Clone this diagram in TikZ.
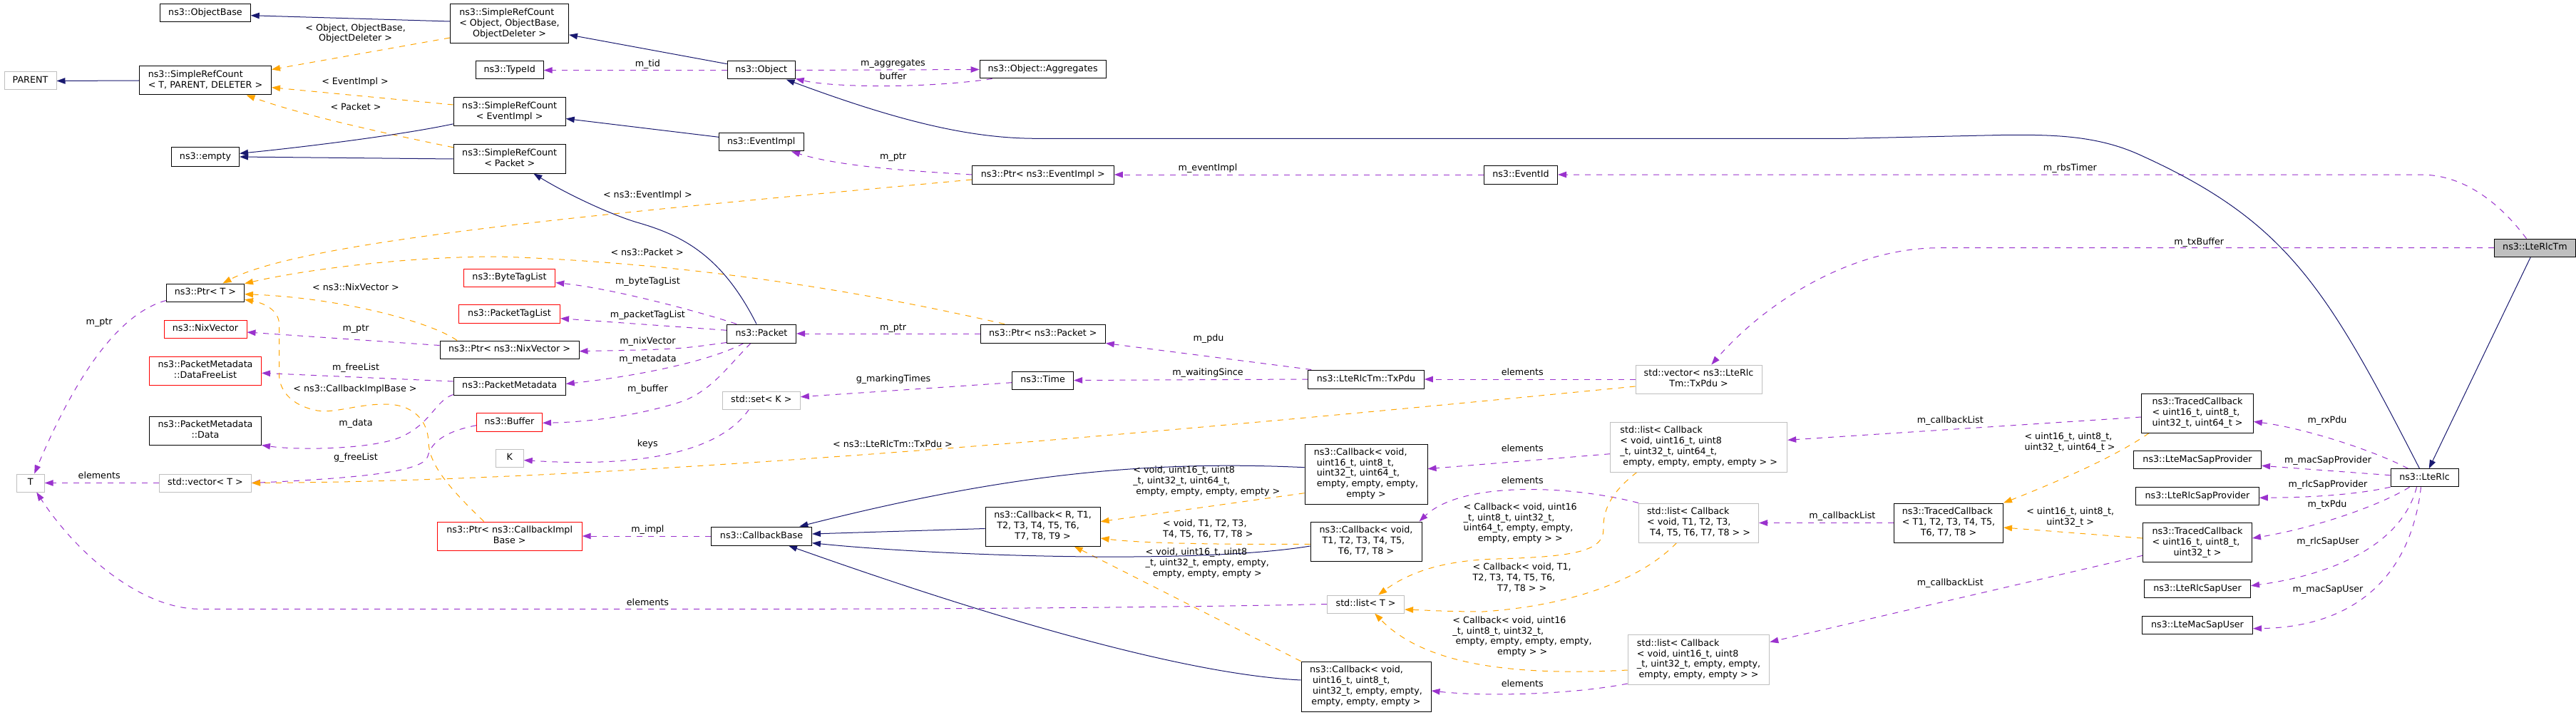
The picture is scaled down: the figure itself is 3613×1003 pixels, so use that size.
\documentclass[tikz,border=0pt]{standalone}
\usepackage{fontspec}
\setmainfont{DejaVu Sans}
\usetikzlibrary{arrows.meta,calc}
\pgfdeclarelayer{bg}
\pgfsetlayers{bg,main}
\definecolor{inhc}{HTML}{191970}
\definecolor{tplc}{HTML}{FFA500}
\definecolor{usec}{HTML}{9A32CD}
\definecolor{grb}{HTML}{BFBFBF}
\definecolor{redb}{HTML}{FF0000}
\newcommand{\mlines}[2]{\begin{tabular}{@{}l@{}}#1\\\multicolumn{1}{@{}c@{}}{#2}\end{tabular}}
\tikzset{
  nbox/.style={draw=black, line width=1pt, fill=white, inner sep=0pt, align=center},
  gbox/.style={nbox, draw=grb},
  rbox/.style={nbox, draw=redb},
  one/.style={text height=9.4pt, text depth=3pt},
  sz/.style 2 args={minimum width=#1pt, minimum height=#2pt},
  lbl/.style={inner sep=0pt, align=center},
  arrowhd/.style={-{Triangle[length=12pt,width=8.5pt]}},
  inh/.style={draw=inhc, line width=1pt, arrowhd},
  tpl/.style={draw=tplc, line width=1pt, dash pattern=on 8pt off 8pt, arrowhd},
  use/.style={draw=usec, line width=1pt, dash pattern=on 8pt off 8pt, arrowhd},
}
\begin{document}
\begin{tikzpicture}[x=1pt,y=-1pt,font=\fontsize{12.7pt}{14.8pt}\selectfont]
\useasboundingbox (0,0) rectangle (3613,1003);

% ---------------- nodes ----------------
\node[nbox,one,sz={126.5}{25}] (objbase) at (288,18.5) {ns3::ObjectBase};
\node[gbox,one,sz={73}{25}] (parent) at (42.5,113.5) {PARENT};
\node[nbox,sz={185}{40}] (srcT) at (288,113) {\mlines{ns3::SimpleRefCount}{< T, PARENT, DELETER >}};
\node[nbox,one,sz={95}{26}] (empty) at (288,220) {ns3::empty};
\node[nbox,one,sz={109}{25}] (ptrT) at (288,410.5) {ns3::Ptr< T >};
\node[rbox,one,sz={116}{25}] (nixv) at (288,461.5) {ns3::NixVector};
\node[rbox,sz={157}{40}] (dfl) at (288,520) {\mlines{ns3::PacketMetadata}{::DataFreeList}};
\node[nbox,sz={157}{40}] (pmdata) at (288,604) {\mlines{ns3::PacketMetadata}{::Data}};
\node[gbox,one,sz={39}{25}] (tT) at (42.7,677.5) {T};
\node[gbox,one,sz={129}{25}] (vecT) at (288,677.5) {std::vector< T >};
\node[nbox,sz={166}{55}] (srcObj) at (714.5,33.5) {\mlines{ns3::SimpleRefCount\\< Object, ObjectBase,}{ObjectDeleter >}};
\node[nbox,one,sz={95}{25}] (typeid) at (714.7,98.5) {ns3::TypeId};
\node[nbox,one,sz={95}{25}] (object) at (1067.7,98.5) {ns3::Object};
\node[nbox,sz={157}{40}] (srcEv) at (714.7,157) {\mlines{ns3::SimpleRefCount}{< EventImpl >}};
\node[nbox,one,sz={118.6}{25}] (eventimpl) at (1067.7,199.5) {ns3::EventImpl};
\node[nbox,sz={157}{40}] (srcPk) at (714.7,223) {\mlines{ns3::SimpleRefCount}{< Packet >}};
\node[rbox,one,sz={128.5}{25}] (btl) at (714.5,389.5) {ns3::ByteTagList};
\node[rbox,one,sz={142}{26}] (ptl) at (714.5,440) {ns3::PacketTagList};
\node[nbox,one,sz={195}{25}] (ptrNix) at (714.5,490.5) {ns3::Ptr< ns3::NixVector >};
\node[nbox,one,sz={97}{26}] (packet) at (1068,468) {ns3::Packet};
\node[nbox,one,sz={157}{25}] (pmeta) at (714.7,541.5) {ns3::PacketMetadata};
\node[rbox,one,sz={92}{26}] (buffer) at (714.5,592) {ns3::Buffer};
\node[gbox,one,sz={39}{25}] (kK) at (714.7,642.5) {K};
\node[rbox,sz={203}{40}] (ptrCB) at (714.7,752) {\mlines{ns3::Ptr< ns3::CallbackImpl}{Base >}};
\node[nbox,one,sz={141}{26}] (cbbase) at (1068,752) {ns3::CallbackBase};
\node[gbox,one,sz={109}{25}] (setK) at (1067.8,561.5) {std::set< K >};
\node[nbox,one,sz={177}{25}] (aggr) at (1462.6,97.5) {ns3::Object::Aggregates};
\node[nbox,one,sz={199}{26}] (ptrEv) at (1462.8,245) {ns3::Ptr< ns3::EventImpl >};
\node[nbox,one,sz={175}{26}] (ptrPk) at (1462.8,468) {ns3::Ptr< ns3::Packet >};
\node[nbox,one,sz={86}{25}] (time) at (1462.6,533.5) {ns3::Time};
\node[nbox,sz={161}{55}] (cbR) at (1462.6,738.5) {\mlines{ns3::Callback< R, T1,\\\ T2, T3, T4, T5, T6,}{T7, T8, T9 >}};
\node[nbox,one,sz={103}{26}] (eventid) at (2133,245) {ns3::EventId};
\node[nbox,one,sz={162.5}{26}] (txpdu) at (1916,532) {ns3::LteRlcTm::TxPdu};
\node[nbox,sz={172}{84}] (cbU64) at (1916,665) {\mlines{ns3::Callback< void,\\\ uint16\_t, uint8\_t,\\\ uint32\_t, uint64\_t,\\\ empty, empty, empty,}{empty >}};
\node[nbox,sz={156}{55}] (cbT) at (1916,759.5) {\mlines{ns3::Callback< void,\\\ T1, T2, T3, T4, T5,}{T6, T7, T8 >}};
\node[gbox,one,sz={108}{25}] (listT) at (1915.6,847.5) {std::list< T >};
\node[nbox,sz={182}{70}] (cbE) at (1916,963) {\mlines{ns3::Callback< void,\\\ uint16\_t, uint8\_t,\\\ uint32\_t, empty, empty,}{empty, empty, empty >}};
\node[gbox,sz={177}{40}] (vecTx) at (2382.5,532) {\mlines{std::vector< ns3::LteRlc}{Tm::TxPdu >}};
\node[gbox,sz={248}{70}] (listU64) at (2382.7,627) {\mlines{std::list< Callback\\< void, uint16\_t, uint8\\\_t, uint32\_t, uint64\_t,}{\ empty, empty, empty, empty > >}};
\node[gbox,sz={168}{55}] (listCT) at (2382.5,733.5) {\mlines{std::list< Callback\\< void, T1, T2, T3,}{\ T4, T5, T6, T7, T8 > >}};
\node[gbox,sz={198.6}{70}] (listE) at (2382.5,925.5) {\mlines{std::list< Callback\\< void, uint16\_t, uint8\\\_t, uint32\_t, empty, empty,}{empty, empty, empty > >}};
\node[nbox,sz={153}{55}] (tcT) at (2733,733.5) {\mlines{ns3::TracedCallback\\< T1, T2, T3, T4, T5,}{T6, T7, T8 >}};
\node[nbox,sz={156.6}{55}] (tcU64) at (3082,579.5) {\mlines{ns3::TracedCallback\\< uint16\_t, uint8\_t,}{uint32\_t, uint64\_t >}};
\node[nbox,one,sz={179}{25}] (macSP) at (3082,645.3) {ns3::LteMacSapProvider};
\node[nbox,one,sz={172.5}{25}] (rlcSP) at (3082,696) {ns3::LteRlcSapProvider};
\node[nbox,sz={153}{55}] (tcU32) at (3082,761.3) {\mlines{ns3::TracedCallback\\< uint16\_t, uint8\_t,}{uint32\_t >}};
\node[nbox,one,sz={149}{25}] (rlcSU) at (3082,826.3) {ns3::LteRlcSapUser};
\node[nbox,one,sz={155}{25}] (macSU) at (3082,877.3) {ns3::LteMacSapUser};
\node[nbox,one,sz={95}{25}] (lterlc) at (3400.5,670.3) {ns3::LteRlc};
\node[nbox,one,fill=grb,sz={114}{25}] (lterlctm) at (3555.5,347.7) {ns3::LteRlcTm};

% ---------------- template labels ----------------
\node[lbl] (l1) at (498.6,47.5) {\mlines{< Object, ObjectBase,}{ObjectDeleter >}};
\node[lbl,one] (l2) at (498,115.7) {< EventImpl >};
\node[lbl,one] (l3) at (499,151.7) {< Packet >};
\node[lbl,one] (l4) at (908.4,274.3) {< ns3::EventImpl >};
\node[lbl,one] (l5) at (907.6,355.3) {< ns3::Packet >};
\node[lbl,one] (l6) at (499,404.3) {< ns3::NixVector >};
\node[lbl,one] (l7) at (498,546.7) {< ns3::CallbackImplBase >};
\node[lbl,one] (l8) at (1252,624.3) {< ns3::LteRlcTm::TxPdu >};
\node[lbl] (l9) at (1692.3,675.7) {\mlines{< void, uint16\_t, uint8\\\_t, uint32\_t, uint64\_t,}{\ empty, empty, empty, empty >}};
\node[lbl] (l10) at (1694.3,743.2) {\mlines{< void, T1, T2, T3,}{T4, T5, T6, T7, T8 >}};
\node[lbl] (l11) at (1693.3,790.3) {\mlines{< void, uint16\_t, uint8\\\_t, uint32\_t, empty, empty,}{empty, empty, empty >}};
\node[lbl] (l12) at (2132.2,734.5) {\mlines{< Callback< void, uint16\\\_t, uint8\_t, uint32\_t,\\uint64\_t, empty, empty,}{empty, empty > >}};
\node[lbl] (l13) at (2134.7,811.5) {\mlines{< Callback< void, T1,\\T2, T3, T4, T5, T6,}{T7, T8 > >}};
\node[lbl] (l14) at (2135.1,893.5) {\mlines{< Callback< void, uint16\\\_t, uint8\_t, uint32\_t,\\\ empty, empty, empty, empty,}{empty > >}};
\node[lbl] (l15) at (2903,621.3) {\mlines{< uint16\_t, uint8\_t,}{uint32\_t, uint64\_t >}};
\node[lbl] (l16) at (2903.7,725.7) {\mlines{< uint16\_t, uint8\_t,}{uint32\_t >}};

% ---------------- member labels ----------------
\node[lbl,one] (lm1) at (908.4,90) {m\_tid};
\node[lbl,one] (lm2) at (1252.5,89) {m\_aggregates};
\node[lbl,one] (lm3) at (1252.6,108.3) {buffer};
\node[lbl,one] (lm4) at (1694,236.7) {m\_eventImpl};
\node[lbl,one] (lm5) at (1252.6,220) {m\_ptr};
\node[lbl,one] (lm6) at (2903.4,236.7) {m\_rbsTimer};
\node[lbl,one] (lm7) at (3084.2,340) {m\_txBuffer};
\node[lbl,one] (lm8) at (2135.3,523.3) {elements};
\node[lbl,one] (lm9) at (1695,475) {m\_pdu};
\node[lbl,one] (lm10) at (1694,523.3) {m\_waitingSince};
\node[lbl,one] (lm11) at (1252.6,460) {m\_ptr};
\node[lbl,one] (lm12) at (908.4,395) {m\_byteTagList};
\node[lbl,one] (lm13) at (908.4,442.7) {m\_packetTagList};
\node[lbl,one] (lm14) at (908.4,479) {m\_nixVector};
\node[lbl,one] (lm15) at (908.4,504) {m\_metadata};
\node[lbl,one] (lm16) at (908.4,546.7) {m\_buffer};
\node[lbl,one] (lm17) at (499,461.7) {m\_ptr};
\node[lbl,one] (lm18) at (139.2,452.3) {m\_ptr};
\node[lbl,one] (lm19) at (139.2,668.3) {elements};
\node[lbl,one] (lm20) at (908.4,846.7) {elements};
\node[lbl,one] (lm21) at (908.4,623.3) {keys};
\node[lbl,one] (lm22) at (1253,532.7) {g\_markingTimes};
\node[lbl,one] (lm23) at (908.4,743.3) {m\_impl};
\node[lbl,one] (lm24) at (2135.3,630) {elements};
\node[lbl,one] (lm25) at (2135.3,675) {elements};
\node[lbl,one] (lm26) at (2135.3,960) {elements};
\node[lbl,one] (lm27) at (2735.3,590) {m\_callbackList};
\node[lbl,one] (lm28) at (2583.9,724.3) {m\_callbackList};
\node[lbl,one] (lm29) at (2735.3,818.3) {m\_callbackList};
\node[lbl,one] (lm30) at (3264,590) {m\_rxPdu};
\node[lbl,one] (lm31) at (3265,646.7) {m\_macSapProvider};
\node[lbl,one] (lm32) at (3265,680.7) {m\_rlcSapProvider};
\node[lbl,one] (lm33) at (3264,708.3) {m\_txPdu};
\node[lbl,one] (lm34) at (3265,760.7) {m\_rlcSapUser};
\node[lbl,one] (lm35) at (3265,827.7) {m\_macSapUser};
\node[lbl,one] (lm36) at (499,516.7) {m\_freeList};
\node[lbl,one] (lm37) at (499,594.3) {m\_data};
\node[lbl,one] (lm38) at (499,642.3) {g\_freeList};

\begin{pgfonlayer}{bg}
\fill[white] (0,0) rectangle (3613,1003);

% ---------------- usage (purple dashed) ----------------
\draw[use] (object.west) -- (typeid.east);
\draw[use] (object.east) -- (aggr.west);
\draw[use] ($(aggr.south west)+(18,0)$) .. controls (1300,124) and (1170,123) .. ($(object.south east)+(0,-1)$);
\draw[use] (eventid.west) -- (ptrEv.east);
\draw[use] (ptrEv.west) .. controls (1280,240) and (1180,234) .. (eventimpl);
\draw[use] ($(lterlctm.north)+(-12,0)$) .. controls (3510,290) and (3460,245) .. (3395,245) -- (eventid.east);
\draw[use] (lterlctm.west) -- (2720,347.7) .. controls (2600,347.7) and (2480,420) .. (vecTx);
\draw[use] (vecTx.west) -- (txpdu.east);
\draw[use] ($(txpdu.north west)+(5,0)$) -- (ptrPk.south east);
\draw[use] (txpdu.west) -- (time.east);
\draw[use] (ptrPk.west) -- (packet.east);
\draw[use] ($(packet.north west)+(14,0)$) .. controls (980,437) and (860,405) .. ($(btl.east)+(0,7)$);
\draw[use] ($(packet.west)+(0,-4.7)$) -- ($(ptl.east)+(0,6.7)$);
\draw[use] ($(packet.south west)+(0,-1)$) .. controls (950,490) .. ($(ptrNix.east)+(0,2.2)$);
\draw[use] ($(packet.south)+(-25,0)$) .. controls (1000,505) and (900,527) .. ($(pmeta.east)+(0,-3)$);
\draw[use] ($(packet.south)+(-15,0)$) .. controls (1020,515) and (1000,545) .. (960,562) .. controls (900,582) and (830,592) .. ($(buffer.east)+(0,1.3)$);
\draw[use] ($(ptrNix.west)+(0,-6)$) -- ($(nixv.east)+(0,4.5)$);
\draw[use] ($(ptrT.south west)+(0,-2)$) .. controls (165,440) and (105,530) .. (tT);
\draw[use] (vecT.west) -- (tT.east);
\draw[use] (listT.west) .. controls (1700,851) and (1400,854.3) .. (1100,854.3) -- (280,854.3) .. controls (200,854.3) and (110,780) .. (tT);
\draw[use] ($(setK.south west)+(37.6,0)$) .. controls (1005,640) and (880,655) .. ($(kK.east)+(0,3)$);
\draw[use] ($(time.west)+(0,3.2)$) -- ($(setK.east)+(0,-4.8)$);
\draw[use] (cbbase.west) -- (ptrCB.east);
\draw[use] ($(listU64.west)+(0,9.7)$) -- ($(cbU64.east)+(0,-7.3)$);
\draw[use] (listCT.north west) .. controls (2200,680) and (2050,675) .. ($(cbT.north east)+(-4,0)$);
\draw[use] ($(listE.south west)+(0,-2)$) .. controls (2200,975) and (2080,977) .. ($(cbE.east)+(0,6)$);
\draw[use] ($(tcU64.west)+(0,5.5)$) -- ($(listU64.east)+(0,-9.7)$);
\draw[use] (tcT.west) -- (listCT.east);
\draw[use] ($(tcU32.west)+(0,18)$) -- ($(listE.east)+(0,-24.8)$);
\draw[use] ($(lterlc.north)+(-23,0)$) .. controls (3330,632) and (3230,600) .. ($(tcU64.east)+(0,12)$);
\draw[use] ($(lterlc.west)+(0,-3.6)$) -- ($(macSP.east)+(0,8)$);
\draw[use] (lterlc.south west) .. controls (3300,695) and (3230,698) .. ($(rlcSP.east)+(0,2.3)$);
\draw[use] ($(lterlc.south)+(-21,0)$) .. controls (3340,708) and (3250,740) .. ($(tcU32.east)+(0,-6.3)$);
\draw[use] ($(lterlc.south)+(-11,0)$) .. controls (3370,760) and (3280,805) .. ($(rlcSU.east)+(0,-4.6)$);
\draw[use] ($(lterlc.south)+(-5,0)$) .. controls (3380,820) and (3290,880) .. ($(macSU.east)+(0,4.4)$);
\draw[use] ($(pmeta.west)+(0,-6.5)$) -- ($(dfl.east)+(0,3.3)$);
\draw[use] ($(pmeta.south west)+(0,-1)$) .. controls (610,562) and (605,595) .. (560,614) .. controls (520,630) and (420,632) .. (pmdata.south east);
\draw[use] ($(buffer.west)+(0,4.7)$) .. controls (625,605) and (605,620) .. (600,640) .. controls (595,660) and (520,670) .. (vecT.east);

% ---------------- template instances (orange dashed) ----------------
\draw[tpl] ($(srcObj.west)+(0,19.5)$) -- ($(srcT.north east)+(0,5)$);
\draw[tpl] ($(srcEv.west)+(0,-10)$) -- ($(srcT.east)+(0,9.7)$);
\draw[tpl] (srcPk) .. controls (520,183) and (420,160) .. (srcT);
\draw[tpl] ($(ptrEv.west)+(0,7)$) .. controls (900,295) and (430,335) .. (ptrT);
\draw[tpl] ($(ptrPk.north west)+(34,0)$) .. controls (1250,418) and (1000,370) .. (700,360) .. controls (560,360) and (420,380) .. (ptrT);
\draw[tpl] ($(ptrNix.north west)+(24.5,0)$) .. controls (605,452) and (480,418) .. (ptrT);
\draw[tpl] ($(ptrCB.north)+(-36,0)$) .. controls (625,680) and (602,650) .. (601,620) .. controls (600,590) and (580,567) .. (540,567) .. controls (500,567) and (470,580) .. (445,576) .. controls (405,568) and (391.5,545) .. (391.5,525) -- (391.5,455) .. controls (391.5,435) and (370,425) .. (ptrT);
\draw[tpl] ($(vecTx.west)+(0,10)$) .. controls (1700,600) and (900,675) .. (vecT.east);
\draw[tpl] ($(cbU64.west)+(0,26.7)$) -- ($(cbR.east)+(0,-6.8)$);
\draw[tpl] ($(cbT.west)+(0,3.8)$) .. controls (1700,764) and (1600,762) .. ($(cbR.east)+(0,16.5)$);
\draw[tpl] (cbE.north west) -- ($(cbR.south east)+(-37,0)$);
\draw[tpl] ($(listU64.south west)+(37.6,0)$) .. controls (2260,690) and (2248,715) .. (2248.8,743) .. controls (2249,775) and (2200,781) .. (2100,784) .. controls (2030,786) and (1980,800) .. (listT);
\draw[tpl] ($(listCT.south)+(-31,0)$) .. controls (2300,815) and (2200,850) .. (2080,858) .. controls (2030,858) and (2000,856) .. ($(listT.east)+(0,7.5)$);
\draw[tpl] ($(listE.west)+(0,14.5)$) .. controls (2130,948) and (2000,935) .. (listT);
\draw[tpl] ($(tcU64.south west)+(11,0)$) .. controls (2965,642) and (2880,678) .. (tcT.north east);
\draw[tpl] ($(tcU32.west)+(0,-6.3)$) -- ($(tcT.east)+(0,6.5)$);

% ---------------- inheritance (solid blue) ----------------
\draw[inh] ($(srcObj.west)+(0,-3.5)$) -- ($(objbase.east)+(0,3.2)$);
\draw[inh] (srcT.west) -- (parent.east);
\draw[inh] (srcEv) .. controls (560,190) and (420,207) .. (empty);
\draw[inh] (srcPk.west) -- (empty.east);
\draw[inh] (object) -- (srcObj);
\draw[inh] (eventimpl) -- (srcEv);
\draw[inh] ($(packet.north)+(-7,0)$) .. controls (1011,355) and (953,329) .. (892.6,311.7) .. controls (860,302) and (800,275) .. (srcPk);
\draw[inh] (lterlctm) -- (lterlc);
\draw[inh] ($(lterlc.north)+(-7,0)$) .. controls (3262.2,401.2) and (3206.5,309.8) .. (3000,216.7) .. controls (2941,190.1) and (2880,189) .. (2815,189.3) -- (2589.8,194.3) -- (1453,194.3) .. controls (1360,194) and (1260,170) .. (object);
\draw[inh] ($(cbU64.west)+(0,-9.3)$) .. controls (1600,645) and (1400,668) .. (cbbase);
\draw[inh] ($(cbR.west)+(0,3)$) -- ($(cbbase.east)+(0,-3)$);
\draw[inh] ($(cbT.west)+(0,6.5)$) .. controls (1680,792) and (1320,780) .. ($(cbbase.east)+(0,9.7)$);
\draw[inh] ($(cbE.west)+(0,-9)$) .. controls (1640,945) and (1330,845) .. (cbbase);
\end{pgfonlayer}
\end{tikzpicture}
\end{document}
